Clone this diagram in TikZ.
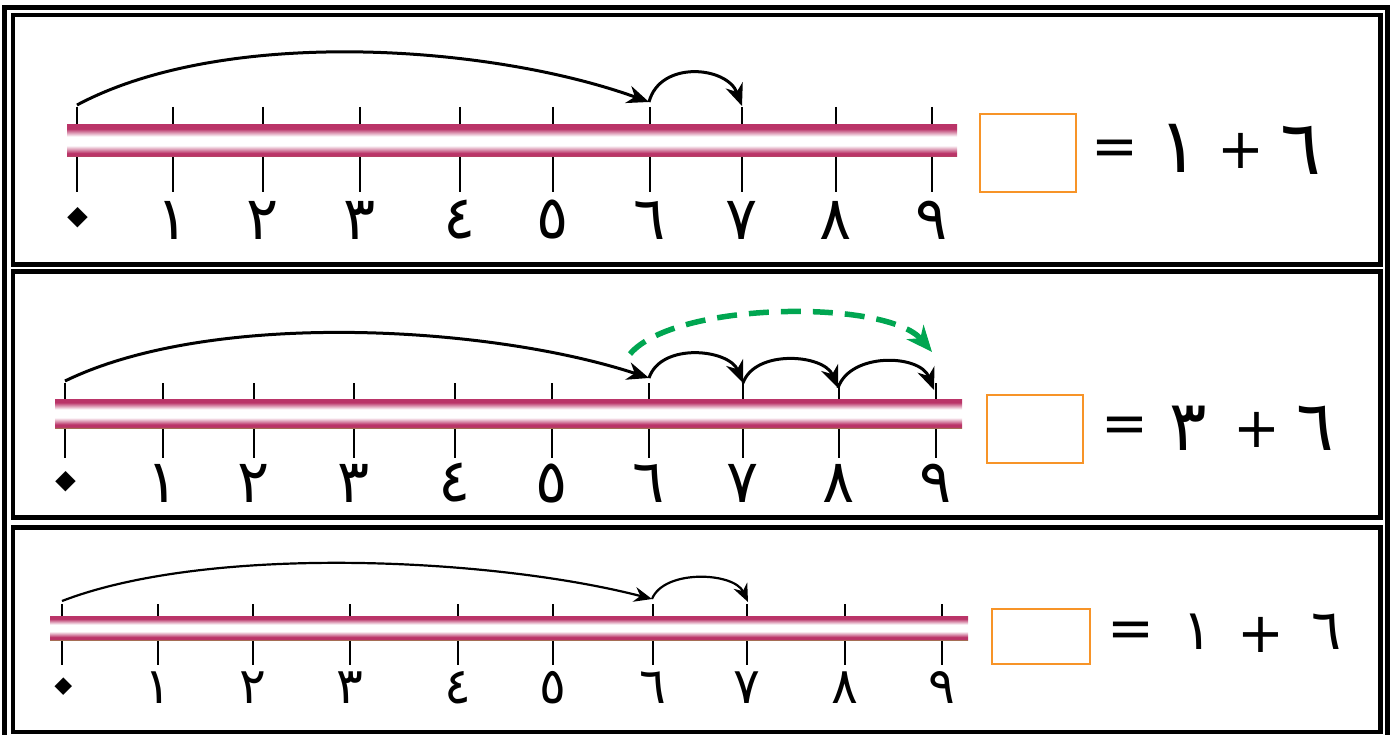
\documentclass[tikz,border=0pt]{standalone}
\usepackage{fontspec}
\newfontfamily\arabicfont[Script=Arabic]{DejaVu Sans}
\TeXXeTstate=1
\usetikzlibrary{arrows.meta}

\definecolor{tubepink}{RGB}{186,52,104}
\definecolor{tubeedge}{RGB}{165,110,85}
\definecolor{boxorange}{RGB}{247,148,40}
\definecolor{hopgreen}{RGB}{0,166,81}
\pgfdeclareverticalshading{tube}{100bp}{color(0bp)=(tubeedge); color(25bp)=(tubeedge); color(27bp)=(tubepink); color(31bp)=(tubepink); color(43bp)=(white); color(57bp)=(white); color(69bp)=(tubepink); color(75bp)=(tubepink); color(100bp)=(tubepink)}

\begin{document}
\begin{tikzpicture}[x=1pt,y=-1pt,
  frame/.style={line width=4.5pt},
  tick/.style={line width=1.8pt},
  digit/.style={font=\arabicfont\fontsize{60}{60}\selectfont, inner sep=0pt},
  smalldigit/.style={font=\arabicfont\fontsize{50}{50}\selectfont, inner sep=0pt},
  zero/.style={font=\arabicfont\bfseries\fontsize{84}{84}\selectfont, inner sep=0pt, rotate=45},
  eqsign/.style={font=\arabicfont\fontsize{56}{56}\selectfont, inner sep=0pt},
  eqdigit/.style={font=\arabicfont\fontsize{76}{76}\selectfont, inner sep=0pt},
  answer/.style={draw=boxorange, line width=2pt, inner sep=0pt},
  hop/.style={line width=3pt, -{Stealth[length=22pt,width=18pt,inset=7pt]}},
  thinhop/.style={line width=2.2pt, -{Stealth[length=18pt,width=15pt,inset=6pt]}},
  greenhop/.style={hopgreen, line width=5.5pt, dash pattern=on 20pt off 12pt,
    -{Stealth[length=26pt,width=22pt,inset=8pt]}}]
\useasboundingbox (0,0) rectangle (1394,735);

% frames
\draw[frame] (4.5,7.5) rectangle (1387.5,745);
\draw[frame] (13,15) rectangle (1380.5,264.5);
\draw[frame] (13,271.5) rectangle (1380.5,517.5);
\draw[frame] (13,527.5) rectangle (1380.5,732);

% panel 1: 6 + 1
\draw[tick] (77,107) -- (77,192) (173,107) -- (173,192) (263,107) -- (263,192)
  (360,107) -- (360,192) (460,107) -- (460,192) (553,107) -- (553,192)
  (650,107) -- (650,192) (742,107) -- (742,192) (836,107) -- (836,192)
  (932,107) -- (932,192);
\shade[shading=tube] (67,125) rectangle (957,157);
\node[zero] (p1n0) at (84,223) {\beginR ٠\endR};
\node[digit] (p1n1) at (173,220) {\beginR ١\endR};
\node[digit] (p1n2) at (263,220) {\beginR ٢\endR};
\node[digit] (p1n3) at (360,220) {\beginR ٣\endR};
\node[digit] (p1n4) at (460,220) {\beginR ٤\endR};
\node[digit] (p1n5) at (553,220) {\beginR ٥\endR};
\node[digit] (p1n6) at (650,220) {\beginR ٦\endR};
\node[digit] (p1n7) at (742,220) {\beginR ٧\endR};
\node[digit] (p1n8) at (836,220) {\beginR ٨\endR};
\node[digit] (p1n9) at (932,220) {\beginR ٩\endR};
\coordinate (p1c0) at (77,105);
\coordinate (p1c6) at (649,102);
\coordinate (p1c7) at (742,106);
\draw[hop] (p1c0) .. controls +(148,-79) and +(-158,-57) .. (p1c6);
\draw[hop] (p1c6) .. controls +(11,-42) and +(-15,-40) .. (p1c7);
\node[answer, minimum width=96pt, minimum height=78pt] (p1box) at (1028,153) {};
\node[eqsign] (p1eq) at (1115,153) {=};
\node[eqdigit] (p1b) at (1179,148) {\beginR ١\endR};
\node[eqsign] (p1plus) at (1241,151) {+};
\node[eqdigit] (p1a) at (1301,150) {\beginR ٦\endR};

% panel 2: 6 + 3
\draw[tick] (65,383) -- (65,458) (163,383) -- (163,458) (254,383) -- (254,458)
  (354,383) -- (354,458) (455,383) -- (455,458) (552,383) -- (552,458)
  (649,383) -- (649,458) (743,383) -- (743,458) (839,383) -- (839,458)
  (936,383) -- (936,458);
\shade[shading=tube] (55,399) rectangle (962,428);
\node[zero] (p2n0) at (72,487) {\beginR ٠\endR};
\node[digit] (p2n1) at (163,483) {\beginR ١\endR};
\node[digit] (p2n2) at (254,483) {\beginR ٢\endR};
\node[digit] (p2n3) at (354,483) {\beginR ٣\endR};
\node[digit] (p2n4) at (455,483) {\beginR ٤\endR};
\node[digit] (p2n5) at (552,483) {\beginR ٥\endR};
\node[digit] (p2n6) at (649,483) {\beginR ٦\endR};
\node[digit] (p2n7) at (743,483) {\beginR ٧\endR};
\node[digit] (p2n8) at (839,483) {\beginR ٨\endR};
\node[digit] (p2n9) at (936,483) {\beginR ٩\endR};
\coordinate (p2c0) at (65,381);
\coordinate (p2c6) at (649,378);
\coordinate (p2c7) at (743,383);
\coordinate (p2c8) at (838,388);
\coordinate (p2c9) at (934,390);
\coordinate (p2g6) at (630,354);
\coordinate (p2g9) at (932,352);
\draw[greenhop] (p2g6) .. controls +(45,-53) and +(-45,-53) .. (p2g9);
\draw[hop] (p2c0) .. controls +(148,-72) and +(-158,-52) .. (p2c6);
\draw[hop] (p2c6) .. controls +(12,-36) and +(-14,-34) .. (p2c7);
\draw[hop] (p2c7) .. controls +(12,-34) and +(-14,-34) .. (p2c8);
\draw[hop] (p2c8) .. controls +(12,-36) and +(-14,-36) .. (p2c9);
\node[answer, minimum width=96pt, minimum height=68pt] (p2box) at (1035,429) {};
\node[eqsign] (p2eq) at (1125,430) {=};
\node[eqdigit, font=\arabicfont\fontsize{70}{70}\selectfont] (p2b) at (1188,428) {\beginR ٣\endR};
\node[eqsign] (p2plus) at (1257,430) {+};
\node[eqdigit, font=\arabicfont\fontsize{70}{70}\selectfont] (p2a) at (1315,428) {\beginR ٦\endR};

% panel 3: 6 + 1
\draw[tick] (62,604) -- (62,665) (158,604) -- (158,665) (253,604) -- (253,665)
  (350,604) -- (350,665) (458,604) -- (458,665) (553,604) -- (553,665)
  (653,604) -- (653,665) (747,604) -- (747,665) (845,604) -- (845,665)
  (942,604) -- (942,665);
\shade[shading=tube] (50,616) rectangle (968,640);
\node[zero, font=\arabicfont\bfseries\fontsize{72}{72}\selectfont] (p3n0) at (69,692) {\beginR ٠\endR};
\node[smalldigit] (p3n1) at (158,688) {\beginR ١\endR};
\node[smalldigit] (p3n2) at (253,688) {\beginR ٢\endR};
\node[smalldigit] (p3n3) at (350,688) {\beginR ٣\endR};
\node[smalldigit] (p3n4) at (458,688) {\beginR ٤\endR};
\node[smalldigit] (p3n5) at (553,688) {\beginR ٥\endR};
\node[smalldigit] (p3n6) at (653,688) {\beginR ٦\endR};
\node[smalldigit] (p3n7) at (747,688) {\beginR ٧\endR};
\node[smalldigit] (p3n8) at (845,688) {\beginR ٨\endR};
\node[smalldigit] (p3n9) at (942,688) {\beginR ٩\endR};
\coordinate (p3c0) at (62,601);
\coordinate (p3c6) at (652,599);
\coordinate (p3c7) at (748,602);
\draw[thinhop] (p3c0) .. controls +(148,-57) and +(-158,-41) .. (p3c6);
\draw[thinhop] (p3c6) .. controls +(12,-30) and +(-14,-30) .. (p3c7);
\node[answer, minimum width=98pt, minimum height=55pt] (p3box) at (1041,636) {};
\node[eqsign] (p3eq) at (1131,635) {=};
\node[eqdigit, font=\arabicfont\fontsize{56}{56}\selectfont] (p3b) at (1198,632) {\beginR ١\endR};
\node[eqsign] (p3plus) at (1261,635) {+};
\node[eqdigit, font=\arabicfont\fontsize{56}{56}\selectfont] (p3a) at (1327,632) {\beginR ٦\endR};
\end{tikzpicture}
\end{document}
